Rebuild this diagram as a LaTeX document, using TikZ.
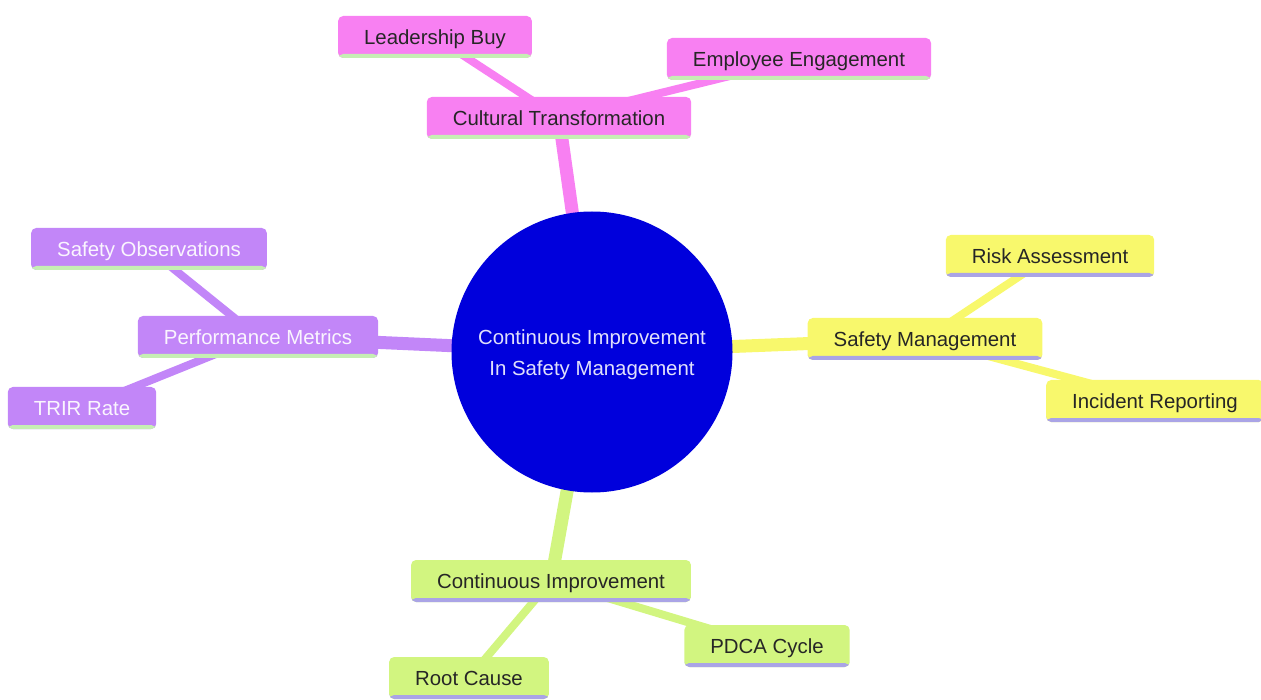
\documentclass[tikz,border=0pt]{standalone}
\usepackage{fontspec}
\setmainfont{Liberation Sans}
\usepackage{tikz}
\usetikzlibrary{backgrounds}
\definecolor{rootblue}{HTML}{0000DC}
\definecolor{pinkfill}{HTML}{F880F2}
\definecolor{yellowfill}{HTML}{F8F86C}
\definecolor{greenfill}{HTML}{D2F580}
\definecolor{purplefill}{HTML}{C286F8}
\definecolor{greenline}{HTML}{C6EEB4}
\definecolor{lavline}{HTML}{AAA4E6}
\tikzset{
  uline/.style={path picture={\fill[#1] ([yshift=4pt]path picture bounding box.south west) rectangle (path picture bounding box.south east);}},
  topic/.style={rectangle, rounded corners=5pt, minimum height=42pt, inner xsep=26pt, inner ysep=0pt, text height=19pt, text depth=4pt},
  pinkbox/.style={topic, fill=pinkfill, uline=greenline, text=black!85},
  yellowbox/.style={topic, fill=yellowfill, uline=lavline, text=black!85},
  greenbox/.style={topic, fill=greenfill, uline=lavline, text=black!85},
  purplebox/.style={topic, fill=purplefill, uline=greenline, text=white!92!purplefill},
  trunk/.style={line width=13pt},
  twig/.style={line width=8pt}
}
\begin{document}
\begin{tikzpicture}[x=1pt, y=-1pt]
  % y grows downwards, one unit per pixel
  \useasboundingbox (0,0) rectangle (1261,700);
  \tikzstyle{every node}=[font=\fontsize{20.4}{24}\selectfont]
  \node (root) [circle, fill=rootblue, minimum size=281pt, inner sep=0pt, align=center,
    text=white!88!rootblue, font=\fontsize{20.4}{31}\selectfont] at (592,352)
    {\rule{0pt}{20pt}Continuous Improvement\\ In Safety Management};
  % cultural branch
  \node (ct) [pinkbox] at (559,118) {Cultural Transformation};
  \node (lb) [pinkbox] at (435,37) {Leadership Buy};
  \node (ee) [pinkbox] at (799,59) {Employee Engagement};
  % safety branch
  \node (sm) [yellowbox] at (925,339) {Safety Management};
  \node (ra) [yellowbox] at (1050,256) {Risk Assessment};
  \node (ir) [yellowbox] at (1155,401) {Incident Reporting};
  % metrics branch
  \node (pm) [purplebox] at (258,337) {Performance Metrics};
  \node (so) [purplebox] at (149,249) {Safety Observations};
  \node (tr) [purplebox] at (82,408) {TRIR Rate};
  % improvement branch
  \node (ci) [greenbox] at (551,581) {Continuous Improvement};
  \node (pd) [greenbox] at (767,646) {PDCA Cycle};
  \node (rc) [greenbox] at (469,678) {Root Cause};
  \begin{pgfonlayer}{background}
    \draw[trunk, pinkfill] (root.center) -- (ct.center);
    \draw[twig, pinkfill] (ct.center) -- (lb.center);
    \draw[twig, pinkfill] (ct.center) -- (ee.center);
    \draw[trunk, yellowfill] (root.center) -- (sm.center);
    \draw[twig, yellowfill] (sm.center) -- (ra.center);
    \draw[twig, yellowfill] (sm.center) -- (ir.center);
    \draw[trunk, purplefill] (root.center) -- (pm.center);
    \draw[twig, purplefill] (pm.center) -- (so.center);
    \draw[twig, purplefill] (pm.center) -- (tr.center);
    \draw[trunk, greenfill] (root.center) -- (ci.center);
    \draw[twig, greenfill] (ci.center) -- (pd.center);
    \draw[twig, greenfill] (ci.center) -- (rc.center);
  \end{pgfonlayer}
\end{tikzpicture}
\end{document}
